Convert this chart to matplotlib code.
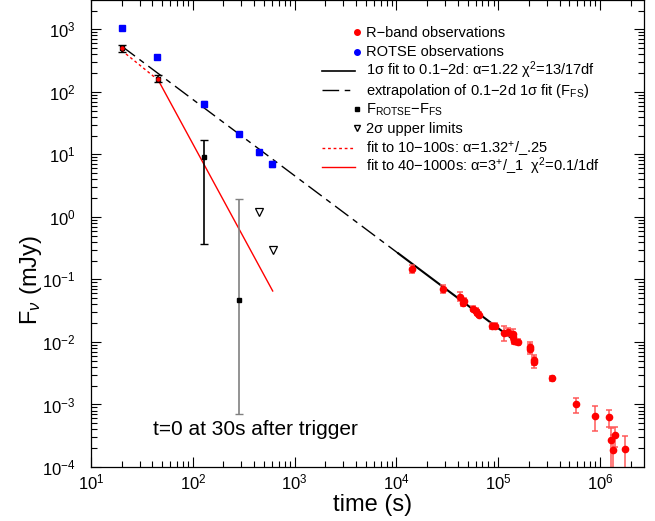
import matplotlib
matplotlib.use("Agg")
import matplotlib.pyplot as plt
import numpy as np
from matplotlib.lines import Line2D

plt.rcParams.update(
    {
        "font.family": ["Liberation Sans", "DejaVu Sans"],
        "mathtext.fontset": "custom",
        "mathtext.rm": "Liberation Sans",
        "mathtext.it": "Liberation Sans:italic",
        "mathtext.bf": "Liberation Sans:bold",
        "font.size": 11,
    }
)

# R-band observations (time s, flux mJy, errors in dex)
r_time = [1.41e4, 2.85e4, 4.25e4, 4.48e4, 4.65e4, 5.69e4, 6.01e4, 6.23e4, 6.52e4,
          8.75e4, 9.3e4, 1.14e5, 1.24e5, 1.38e5, 1.39e5, 1.44e5, 1.56e5,
          2.05e5, 2.07e5, 2.25e5, 2.26e5, 3.38e5, 5.81e5, 8.99e5, 1.22e6,
          1.29e6, 1.35e6, 1.40e6, 1.77e6]
r_flux = [0.147, 0.0703, 0.053, 0.0425, 0.0457, 0.0337, 0.0313, 0.0294, 0.0273,
          0.0178, 0.0178, 0.0137, 0.0144, 0.0136, 0.0119, 0.0105, 0.0101,
          0.0084, 0.0078, 0.00514, 0.00473, 0.00262, 0.00101, 0.00066, 0.00063,
          0.000267, 0.000185, 0.000329, 0.000196]
r_err_lo = [0.06, 0.06, 0.07, 0.05, 0.05, 0.04, 0.04, 0.04, 0.04,
            0.05, 0.05, 0.125, 0.07, 0.07, 0.05, 0.05, 0.05,
            0.08, 0.08, 0.085, 0.085, 0.04, 0.14, 0.24, 0.165,
            0.45, 0.45, 0.19, 0.45]
r_err_hi = [0.06, 0.06, 0.07, 0.05, 0.05, 0.04, 0.04, 0.04, 0.04,
            0.05, 0.05, 0.125, 0.07, 0.07, 0.05, 0.05, 0.05,
            0.08, 0.08, 0.085, 0.085, 0.04, 0.106, 0.155, 0.11,
            0.197, 0.25, 0.128, 0.208]

# ROTSE observations
rotse_time = [20.0, 44.8, 129, 284, 450, 604]
rotse_flux = [1045, 365, 64.6, 21.2, 10.8, 7.0]
rotse_err = [0.02, 0.03, 0.05, 0.03, 0.045, 0.045]

# F_ROTSE - F_FS
diff_time = [20.0, 45.0, 129, 284]
diff_flux = [496, 162, 8.97, 0.0469]
diff_lo = [440, 142, 0.372, 0.000697]
diff_hi = [560, 185, 17.1, 1.95]

# 2 sigma upper limits
ul_time = [449, 609]
ul_flux = [1.18, 0.292]

# fits
fs_alpha = 1.22
fs_norm_t, fs_norm_f = 1.04e4, 0.262
fs_solid = (1.04e4, 1.52e5)
fs_dash = (20.0, 1.04e4)
early_alpha = 1.32
early_norm_t, early_norm_f = 20.0, 460.0
early_range = (20.0, 45.0)
steep_alpha = 3.0
steep_norm_t, steep_norm_f = 45.0, 162.0
steep_range = (45.0, 609.0)


def powerlaw(t, t0, f0, alpha):
    return f0 * (np.asarray(t) / t0) ** (-alpha)


def dex_err(flux, lo, hi):
    flux = np.asarray(flux)
    return [flux - flux * 10 ** (-np.asarray(lo)), flux * 10 ** np.asarray(hi) - flux]


fig = plt.figure(figsize=(6.55, 5.21), dpi=100)
ax = fig.add_axes([91 / 655, 1 - 467 / 521, 553 / 655, 467 / 521])
ax.set_xscale("log")
ax.set_yscale("log")
ax.set_xlim(10, 2.7e6)
ax.set_ylim(1e-4, 2950)

# fit lines
t = np.geomspace(*fs_dash, 200)
ax.plot(t, powerlaw(t, fs_norm_t, fs_norm_f, fs_alpha), color="black", lw=1.0,
        linestyle=(0, (12, 4, 4, 4)))
t = np.geomspace(*fs_solid, 100)
ax.plot(t, powerlaw(t, fs_norm_t, fs_norm_f, fs_alpha), color="black", lw=1.5)
t = np.geomspace(*early_range, 50)
ax.plot(t, powerlaw(t, early_norm_t, early_norm_f, early_alpha), color="red", lw=1.0,
        linestyle=(0, (2, 2)))
t = np.geomspace(*steep_range, 100)
ax.plot(t, powerlaw(t, steep_norm_t, steep_norm_f, steep_alpha), color="red", lw=1.0)

# R-band
ax.errorbar(r_time, r_flux, yerr=dex_err(r_flux, r_err_lo, r_err_hi), fmt="none",
            ecolor="#ff5050", elinewidth=1.3, capsize=2.5, capthick=1.3, alpha=0.8)
ax.plot(r_time, r_flux, "o", color="red", ms=4.5, mec="red", zorder=4)

# ROTSE
ax.errorbar(rotse_time, rotse_flux, yerr=dex_err(rotse_flux, rotse_err, rotse_err), fmt="none",
            ecolor="#8040c0", elinewidth=1.2, capsize=2.5, alpha=0.8)
ax.plot(rotse_time, rotse_flux, "s", color="blue", ms=5, mec="blue", zorder=4)

# difference points
diff_f = np.asarray(diff_flux)
yerr = [diff_f - np.asarray(diff_lo), np.asarray(diff_hi) - diff_f]
ecol = ["black", "black", "black", "#808080"]
for i in range(len(diff_time)):
    ax.errorbar([diff_time[i]], [diff_flux[i]], yerr=[[yerr[0][i]], [yerr[1][i]]], fmt="none",
                ecolor=ecol[i], elinewidth=1.2, capsize=3, capthick=1.0)
ax.plot(diff_time, diff_flux, "s", color="black", ms=3.2, zorder=5)
ax.plot(diff_time[:2], diff_flux[:2], "o", color="red", ms=2.2, zorder=6)

# upper limits
ax.plot(ul_time, ul_flux, "v", mfc="white", mec="black", ms=6, mew=0.9, ls="none")

ax.tick_params(which="both", direction="in", top=True, right=True, width=0.8, colors="black")
ax.tick_params(which="major", length=7)
ax.tick_params(which="minor", length=4.3)
ax.tick_params(axis="x", which="major", labelsize=12, pad=4)
ax.tick_params(axis="y", which="major", labelsize=12, pad=11)
for sp in ax.spines.values():
    sp.set_linewidth(0.9)

ax.set_xlabel("time (s)", fontsize=17)
ax.xaxis.set_label_coords(0.51, -0.058)
ax.set_ylabel("F$_{ν}$ (mJy)", fontsize=17)
ax.yaxis.set_label_coords(-0.085, 0.40)

ax.text(153 / 655, 1 - 435 / 521, "t=0 at 30s after trigger", transform=fig.transFigure,
        fontsize=15, va="baseline", ha="left")

# legend drawn by hand
leg_labels = [
    "R\u2212band observations",
    "ROTSE observations",
    "1σ fit to 0.1\u22122d: α=1.22 χ$^{2}$=13/17df",
    "extrapolation of 0.1\u22122d 1σ fit (F$_{\\rm FS}$)",
    "F$_{\\rm ROTSE}$\u2212F$_{\\rm FS}$",
    "2σ upper limits",
    "fit to 10\u2212100s: α=1.32$^{+}$/_.25",
    "fit to 40\u22121000s: α=3$^{+}$/_1  χ$^{2}$=0.1/1df",
]
leg_handles = [
    dict(marker="o", color="red", ms=4),
    dict(marker="o", color="blue", ms=4),
    dict(line=dict(color="black", lw=1.2)),
    dict(line=dict(color="black", lw=1.0, linestyle=(0, (12, 4, 4, 4)))),
    dict(marker="s", color="black", ms=3.5),
    dict(marker="v", color="black", ms=5, mfc="white"),
    dict(line=dict(color="red", lw=1.0, linestyle=(0, (2, 2)))),
    dict(line=dict(color="red", lw=1.0)),
]
for i, (lab, h) in enumerate(zip(leg_labels, leg_handles)):
    base = 37 + i * 19.2
    yk = 1 - (base - 4.7) / 521
    if "line" in h:
        fig.add_artist(Line2D([321.7 / 655, 355 / 655], [yk, yk], transform=fig.transFigure, **h["line"]))
    else:
        fig.add_artist(Line2D([356.7 / 655], [yk], transform=fig.transFigure, marker=h["marker"],
                              color=h["color"], ms=h["ms"], mfc=h.get("mfc", h["color"]),
                              mec=h["color"], ls="none"))
    fig.text(366 / 655, 1 - base / 521, lab, fontsize=10.5, va="baseline", ha="left")

fig.savefig("out.png", dpi=100)
